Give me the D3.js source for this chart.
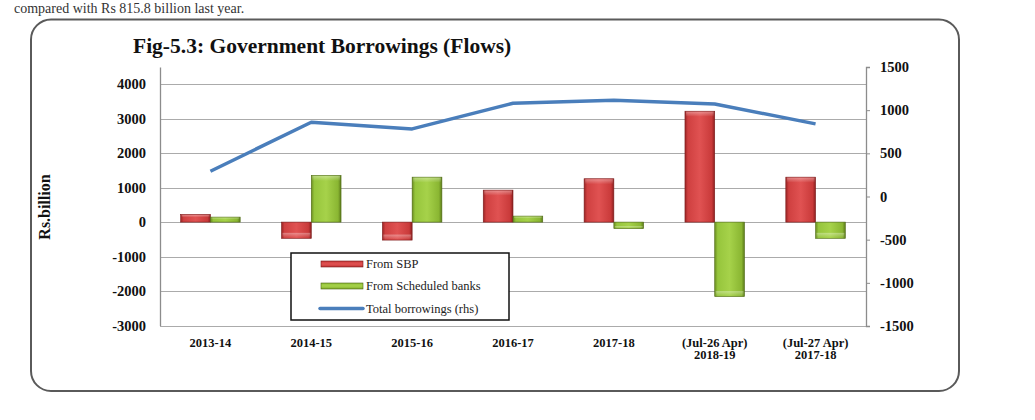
<!DOCTYPE html>
<html><head><meta charset="utf-8">
<script src="https://cdn.jsdelivr.net/npm/d3@7"></script>
<style>
html,body{margin:0;padding:0;background:#fff;}
svg{display:block;}
text{font-family:"Liberation Serif","Times New Roman",serif;}
</style></head>
<body>
<svg id="chart" width="1035" height="420"></svg>
<script>
const categories = ["2013-14","2014-15","2015-16","2016-17","2017-18","(Jul-26 Apr)|2018-19","(Jul-27 Apr)|2017-18"];
const fromSBP = [223, -472, -522, 928, 1258, 3217, 1304];
const fromBanks = [145, 1354, 1304, 174, -191, -2162, -472];
const totalBorrowings = [293, 860, 783, 1080, 1115, 1072, 841];
const leftTicks = [-3000,-2000,-1000,0,1000,2000,3000,4000];
const rightTicks = [-1500,-1000,-500,0,500,1000,1500];
const seriesNames = ["From SBP","From Scheduled banks","Total borrowings (rhs)"];

const svg = d3.select("#chart");
const X0 = 160, X1 = 866, Y0 = 325.5, Y1 = 67;

// gradients
const defs = svg.append("defs");
function grad(id, stops, vertical){
  const g = defs.append("linearGradient").attr("id", id)
    .attr("x1","0").attr("y1","0").attr("x2", vertical?"0":"1").attr("y2", vertical?"1":"0");
  stops.forEach(s => g.append("stop").attr("offset", s[0]).attr("stop-color", s[1]));
}
const redStops = [["0%","#9a2424"],["10%","#cf4040"],["50%","#e05252"],["90%","#c93a3a"],["100%","#8c1f1f"]];
const greenStops = [["0%","#6a8c20"],["10%","#96c53c"],["50%","#a6d24a"],["90%","#8ab632"],["100%","#5c7b1a"]];
grad("gRed", redStops, false);
grad("gGreen", greenStops, false);
grad("gRedV", redStops, true);
grad("gGreenV", greenStops, true);
grad("gTop", [["0%","rgba(255,255,255,0.35)"],["100%","rgba(255,255,255,0)"]], true);

// text line above the figure (partly cut in the source page)
svg.append("text").attr("x", 14).attr("y", 13).attr("font-size", 14).attr("fill", "#333")
  .text("compared with Rs 815.8 billion last year.");

// frame
svg.append("rect").attr("x", 31).attr("y", 19.5).attr("width", 928).attr("height", 371.5)
  .attr("rx", 20).attr("ry", 20).attr("fill", "none").attr("stroke", "#5a5a5a").attr("stroke-width", 2);

// title
svg.append("text").attr("x", 133).attr("y", 53).attr("font-size", 21.5).attr("font-weight", "bold")
  .attr("fill", "#111").text("Fig-5.3: Government Borrowings (Flows)");

// scales
const x = d3.scaleBand().domain(categories).range([X0, X1]).paddingInner(0.41).paddingOuter(0.205);
const xs = d3.scaleBand().domain([0,1]).range([0, x.bandwidth()]);
const yL = d3.scaleLinear().domain([-3000, 4500]).range([Y0, Y1]);
const yR = d3.scaleLinear().domain([-1500, 1500]).range([Y0 + 0.5, Y1]);

// gridlines
svg.append("g").selectAll("line").data(leftTicks).join("line")
  .attr("x1", X0).attr("x2", X1).attr("y1", d => Math.round(yL(d)) + 0.5).attr("y2", d => Math.round(yL(d)) + 0.5)
  .attr("stroke", "#ababab").attr("stroke-width", 1.2);

// left axis
const gL = svg.append("g").attr("transform", `translate(${X0},0)`)
  .call(d3.axisLeft(yL).tickValues(leftTicks).tickSize(0).tickPadding(14).tickFormat(d => String(d)));
gL.select(".domain").attr("stroke", "#8c8c8c").attr("stroke-width", 1.3);
gL.selectAll("text").attr("font-size", 14.5).attr("font-weight", "bold").attr("fill", "#111")
  .attr("font-family", "Liberation Serif, serif");

// right axis
const gR = svg.append("g").attr("transform", `translate(${X1},0)`)
  .call(d3.axisRight(yR).tickValues(rightTicks).tickSize(4).tickPadding(10).tickFormat(d => String(d)));
gR.select(".domain").attr("stroke", "#8c8c8c").attr("stroke-width", 1.3);
gR.selectAll("line").attr("stroke", "#8c8c8c");
gR.selectAll("text").attr("font-size", 14.5).attr("font-weight", "bold").attr("fill", "#111")
  .attr("font-family", "Liberation Serif, serif");

// x axis labels
const gX = svg.append("g").attr("transform", `translate(0,${Y0})`)
  .call(d3.axisBottom(x).tickSize(0).tickPadding(0).tickFormat(""));
gX.select(".domain").remove();
gX.selectAll(".tick").each(function(d){
  const parts = d.split("|");
  const t = d3.select(this).append("text").attr("fill", "#111").attr("font-size", 12.5)
    .attr("font-weight", "bold").attr("text-anchor", "middle").attr("font-family", "Liberation Serif, serif");
  parts.forEach((p, i) => t.append("tspan").attr("x", 0).attr("y", 21 + i * 12).text(p));
});

// y-axis title
svg.append("text").attr("transform", "translate(50,207) rotate(-90)").attr("text-anchor", "middle")
  .attr("font-size", 16).attr("font-weight", "bold").attr("fill", "#111").text("Rs.billion");

// bars
const series = [{vals: fromSBP, fill: "url(#gRed)", stroke: "#7a1c1c"}, {vals: fromBanks, fill: "url(#gGreen)", stroke: "#4f6a16"}];
series.forEach((s, si) => {
  const g = svg.append("g");
  categories.forEach((c, i) => {
    const v = s.vals[i];
    const bx = x(c) + xs(si), bw = xs.bandwidth();
    const y0 = yL(0), yv = yL(v);
    const top = Math.min(y0, yv), h = Math.abs(yv - y0);
    g.append("rect").attr("x", bx).attr("y", top).attr("width", bw).attr("height", h)
      .attr("fill", s.fill).attr("stroke", s.stroke).attr("stroke-width", 0.6);
    const bev = Math.min(5, h / 3);
    g.append("rect").attr("x", bx + 1).attr("y", v >= 0 ? top + 0.5 : top + h - bev - 0.5)
      .attr("width", bw - 2).attr("height", bev).attr("fill", "url(#gTop)");
  });
});

// line
const line = d3.line().x((d, i) => x(categories[i]) + x.bandwidth() / 2).y(d => yR(d));
svg.append("path").datum(totalBorrowings).attr("d", line).attr("fill", "none")
  .attr("stroke", "#4a7ebb").attr("stroke-width", 3.5).attr("stroke-linejoin", "round");

// legend
const lg = svg.append("g");
lg.append("rect").attr("x", 291).attr("y", 253).attr("width", 218).attr("height", 67)
  .attr("fill", "#fff").attr("stroke", "#111").attr("stroke-width", 1.5);
const legItems = [
  {name: seriesNames[0], type: "bar", fill: "url(#gRedV)", stroke: "#7a1c1c", y: 264},
  {name: seriesNames[1], type: "bar", fill: "url(#gGreenV)", stroke: "#4f6a16", y: 286},
  {name: seriesNames[2], type: "line", y: 308.5}
];
legItems.forEach(it => {
  if (it.type === "bar") {
    lg.append("rect").attr("x", 321).attr("y", it.y - 3).attr("width", 42).attr("height", 6)
      .attr("fill", it.fill).attr("stroke", it.stroke).attr("stroke-width", 0.6);
  } else {
    lg.append("line").attr("x1", 320).attr("x2", 363).attr("y1", it.y).attr("y2", it.y)
      .attr("stroke", "#4a7ebb").attr("stroke-width", 3.5).attr("stroke-linecap", "round");
  }
  lg.append("text").attr("x", 366).attr("y", it.y + 4).attr("font-size", 12.5).attr("fill", "#222").text(it.name);
});
</script>
</body></html>
